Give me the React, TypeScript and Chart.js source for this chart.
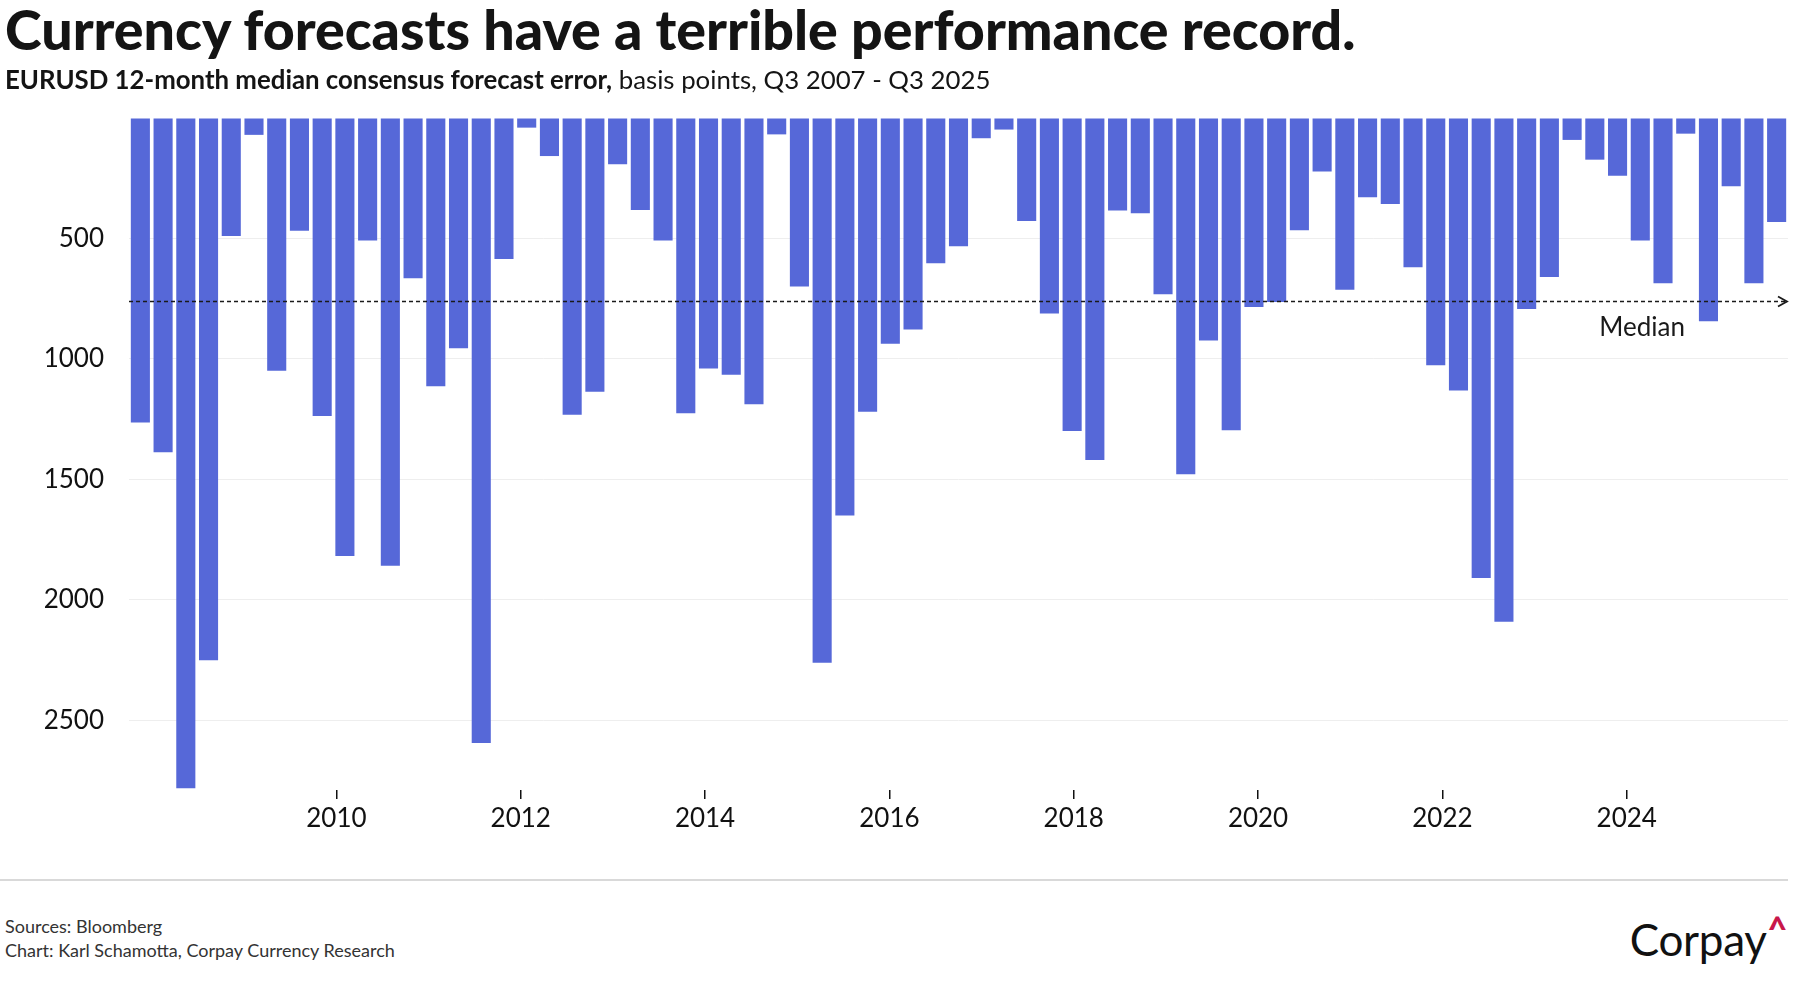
import { useEffect, useRef } from "react";
import { Chart, registerables } from "chart.js";

Chart.register(...registerables);

const FONT = "Lato, 'Noto Sans', 'DejaVu Sans', sans-serif";

// ---- data ----
const categories = [
  "Q3 2007", "Q4 2007",
  "Q1 2008", "Q2 2008", "Q3 2008", "Q4 2008",
  "Q1 2009", "Q2 2009", "Q3 2009", "Q4 2009",
  "Q1 2010", "Q2 2010", "Q3 2010", "Q4 2010",
  "Q1 2011", "Q2 2011", "Q3 2011", "Q4 2011",
  "Q1 2012", "Q2 2012", "Q3 2012", "Q4 2012",
  "Q1 2013", "Q2 2013", "Q3 2013", "Q4 2013",
  "Q1 2014", "Q2 2014", "Q3 2014", "Q4 2014",
  "Q1 2015", "Q2 2015", "Q3 2015", "Q4 2015",
  "Q1 2016", "Q2 2016", "Q3 2016", "Q4 2016",
  "Q1 2017", "Q2 2017", "Q3 2017", "Q4 2017",
  "Q1 2018", "Q2 2018", "Q3 2018", "Q4 2018",
  "Q1 2019", "Q2 2019", "Q3 2019", "Q4 2019",
  "Q1 2020", "Q2 2020", "Q3 2020", "Q4 2020",
  "Q1 2021", "Q2 2021", "Q3 2021", "Q4 2021",
  "Q1 2022", "Q2 2022", "Q3 2022", "Q4 2022",
  "Q1 2023", "Q2 2023", "Q3 2023", "Q4 2023",
  "Q1 2024", "Q2 2024", "Q3 2024", "Q4 2024",
  "Q1 2025", "Q2 2025", "Q3 2025",
];

const forecastError = [
  1264, 1388, 2783, 2251, 490, 70, 1049, 468, 1237, 1819,
  509, 1859, 665, 1114, 956, 2595, 585, 40, 158, 1232,
  1137, 192, 382, 509, 1226, 1040, 1066, 1188, 68, 700,
  2262, 1650, 1220, 937, 878, 603, 532, 84, 48, 428,
  812, 1300, 1420, 384, 395, 732, 1479, 924, 1296, 785,
  764, 466, 222, 713, 329, 357, 620, 1027, 1131, 1910,
  2091, 793, 660, 91, 173, 240, 509, 686, 65, 844,
  283, 686, 432,
];

const medianValue = 760;
const yTicks = [0, 500, 1000, 1500, 2000, 2500];
const yMax = 2790;
const yearTicks = [2010, 2012, 2014, 2016, 2018, 2020, 2022, 2024];
const timeStart = 2007.75;
const timeEnd = 2025.75;

const medianPlugin = {
  id: "medianLine",
  afterDatasetsDraw(chart: any) {
    const { ctx, chartArea, scales } = chart;
    const y = Math.round(scales.y.getPixelForValue(medianValue)) + 0.5;
    ctx.save();
    ctx.strokeStyle = "#1a1a1a";
    ctx.lineWidth = 1.7;
    ctx.setLineDash([4, 3]);
    ctx.beginPath();
    ctx.moveTo(chartArea.left, y);
    ctx.lineTo(chartArea.right - 2, y);
    ctx.stroke();
    ctx.setLineDash([]);
    ctx.lineWidth = 1.8;
    ctx.beginPath();
    ctx.moveTo(chartArea.right - 10, y - 5);
    ctx.lineTo(chartArea.right - 1, y);
    ctx.lineTo(chartArea.right - 10, y + 5);
    ctx.stroke();
    ctx.font = `26px ${FONT}`;
    ctx.fillStyle = "#1a1a1a";
    ctx.textAlign = "right";
    ctx.textBaseline = "middle";
    ctx.fillText("Median", chartArea.right - 103, y + 26);
    ctx.restore();
  },
};

export default function App() {
  const canvasRef = useRef<HTMLCanvasElement | null>(null);

  useEffect(() => {
    document.body.style.margin = "0";
    const canvas = canvasRef.current;
    if (!canvas) return;
    const chart = new Chart(canvas, {
      type: "bar",
      data: {
        labels: categories,
        datasets: [
          {
            data: forecastError,
            backgroundColor: "#5668d8",
            borderWidth: 0,
            categoryPercentage: 1,
            barPercentage: 0.84,
            xAxisID: "x",
            yAxisID: "y",
          },
        ],
      },
      options: {
        animation: false,
        responsive: false,
        events: [],
        layout: { padding: { left: 0, right: 7, top: 118, bottom: 0 } },
        plugins: {
          legend: { display: false },
          tooltip: { enabled: false },
          title: { display: false },
        },
        scales: {
          x: {
            type: "category",
            display: false,
            offset: true,
            grid: { display: false },
          },
          x2: {
            type: "linear",
            position: "bottom",
            offset: false,
            min: timeStart,
            max: timeEnd,
            afterBuildTicks: (s: any) => {
              s.ticks = yearTicks.map((v) => ({ value: v }));
            },
            afterFit: (s: any) => {
              s.height = 60;
            },
            ticks: {
              autoSkip: false,
              maxRotation: 0,
              padding: 4,
              color: "#111",
              font: { family: FONT, size: 26 },
              callback: (v: any) => String(v),
            },
            grid: {
              offset: false,
              drawOnChartArea: false,
              drawTicks: true,
              tickLength: 9,
              color: "#111",
              lineWidth: 1.5,
            },
            border: { display: false },
          },
          y: {
            type: "linear",
            reverse: true,
            min: 0,
            max: yMax,
            afterBuildTicks: (s: any) => {
              s.ticks = yTicks.map((v) => ({ value: v }));
            },
            afterFit: (s: any) => {
              s.width = 129;
            },
            ticks: {
              padding: 25,
              color: "#111",
              font: { family: FONT, size: 26 },
              callback: (v: any) => (v === 0 ? "" : String(v)),
            },
            grid: {
              drawTicks: false,
              lineWidth: 1,
              color: (c: any) => (c.tick && c.tick.value === 0 ? "rgba(0,0,0,0)" : "#eeeeee"),
            },
            border: { display: false },
          },
        },
      },
      plugins: [medianPlugin],
    });
    return () => chart.destroy();
  }, []);

  return (
    <div
      style={{
        position: "relative",
        width: 1795,
        height: 1000,
        background: "#ffffff",
        fontFamily: FONT,
        color: "#111",
        overflow: "hidden",
      }}
    >
      <canvas
        ref={canvasRef}
        width={1795}
        height={850}
        style={{ position: "absolute", left: 0, top: 0, width: 1795, height: 850 }}
      />
      <div
        style={{
          position: "absolute",
          left: 5,
          top: 1,
          fontSize: 55.5,
          fontWeight: 900,
          lineHeight: 1,
          whiteSpace: "nowrap",
          color: "#141414",
        }}
      >
        Currency forecasts have a terrible performance record.
      </div>
      <div
        style={{
          position: "absolute",
          left: 5,
          top: 64,
          fontSize: 25.8,
          lineHeight: 1.2,
          whiteSpace: "nowrap",
          color: "#141414",
        }}
      >
        <span style={{ fontWeight: 700 }}>EURUSD 12-month median consensus forecast error,</span>
        <span> basis points, Q3 2007 - Q3 2025</span>
      </div>
      <div
        style={{
          position: "absolute",
          left: 0,
          top: 879,
          width: 1788,
          height: 1.5,
          background: "#d9d9d9",
        }}
      />
      <div
        style={{
          position: "absolute",
          left: 5,
          top: 914,
          fontSize: 18,
          lineHeight: "24px",
          color: "#333",
          whiteSpace: "nowrap",
        }}
      >
        <div>Sources: Bloomberg</div>
        <div>Chart: Karl Schamotta, Corpay Currency Research</div>
      </div>
      <div
        style={{
          position: "absolute",
          right: 8,
          top: 917,
          fontSize: 44,
          lineHeight: 1,
          color: "#111",
          whiteSpace: "nowrap",
          letterSpacing: -0.3,
        }}
      >
        Corpay
        <span
          style={{
            color: "#c8174a",
            fontWeight: 900,
            fontSize: 34,
            verticalAlign: "top",
            position: "relative",
            top: -5,
            marginLeft: 1,
          }}
        >
          ^
        </span>
      </div>
    </div>
  );
}
